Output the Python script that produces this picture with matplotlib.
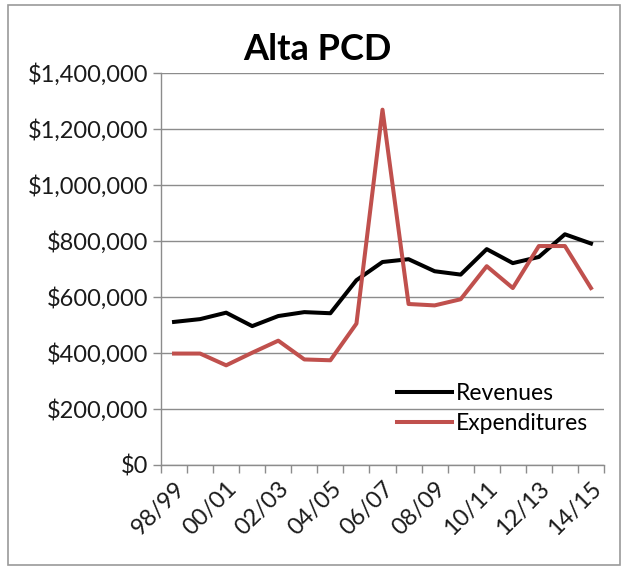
import matplotlib.pyplot as plt
from matplotlib.patches import Rectangle
from matplotlib.ticker import FuncFormatter

plt.rcParams['font.family'] = ['Lato', 'DejaVu Sans']

# ── data ─────────────────────────────────────────────────────────────────────
years = ["98/99", "99/00", "00/01", "01/02", "02/03", "03/04", "04/05", "05/06",
         "06/07", "07/08", "08/09", "09/10", "10/11", "11/12", "12/13", "13/14",
         "14/15"]
revenues = [511000, 521000, 544000, 496000, 532000, 546000, 542000, 660000,
            725000, 735000, 692000, 680000, 771000, 721000, 743000, 824000,
            791000]
expenditures = [398000, 398000, 356000, 401000, 444000, 377000, 374000, 505000,
                1269000, 575000, 570000, 592000, 710000, 632000, 782000, 782000,
                632000]
yticks = [0, 200000, 400000, 600000, 800000, 1000000, 1200000, 1400000]

GRID = "#8c8c8c"
RED = "#C0504D"
TEXT = "#1a1a1a"

fig = plt.figure(figsize=(6.24, 5.71), dpi=100)
ax = fig.add_axes([161 / 624, 1 - 465 / 571, 443 / 624, 392 / 571])

x = range(len(years))
ax.plot(x, revenues, color="black", linewidth=2.9, label="Revenues", solid_joinstyle="round")
ax.plot(x, expenditures, color=RED, linewidth=2.9, label="Expenditures", solid_joinstyle="round")

ax.set_xlim(-0.5, len(years) - 0.5)
ax.set_ylim(0, 1400000)
ax.set_yticks(yticks)
ax.yaxis.set_major_formatter(FuncFormatter(lambda v, _: f"${v:,.0f}"))
ax.grid(axis="y", color=GRID, linewidth=1)
ax.set_axisbelow(True)

# category boundary ticks, labels on every other category centre
ax.set_xticks([i - 0.5 for i in range(len(years) + 1)])
ax.set_xticklabels([])
ax.set_xticks(list(range(0, len(years), 2)), minor=True)
ax.set_xticklabels(years[::2], minor=True, rotation=45, ha="right",
                   rotation_mode="anchor", fontsize=17, color=TEXT)
ax.tick_params(axis="x", which="major", length=6, color=GRID, width=1)
ax.tick_params(axis="x", which="minor", length=0, pad=9)
ax.tick_params(axis="y", length=6, color=GRID, width=1, labelsize=17,
               labelcolor=TEXT, pad=3)

for side in ("top", "right"):
    ax.spines[side].set_visible(False)
for side in ("left", "bottom"):
    ax.spines[side].set_color(GRID)
    ax.spines[side].set_linewidth(1)

ax.legend(loc="upper left", bbox_to_anchor=(0.533, 0.21), frameon=False,
          fontsize=16.5, handlelength=2.4, handletextpad=0.17, labelspacing=0.4,
          borderpad=0, borderaxespad=0)

fig.text(0.508, 1 - 49 / 571, "Alta PCD", ha="center", va="center",
         fontsize=26, fontweight="bold")

fig.patches.append(Rectangle((8 / 624, 6 / 571), 612 / 624, 560 / 571,
                             transform=fig.transFigure, fill=False,
                             edgecolor="#9a9a9a", linewidth=1.2))

fig.savefig("out.png", dpi=100)
